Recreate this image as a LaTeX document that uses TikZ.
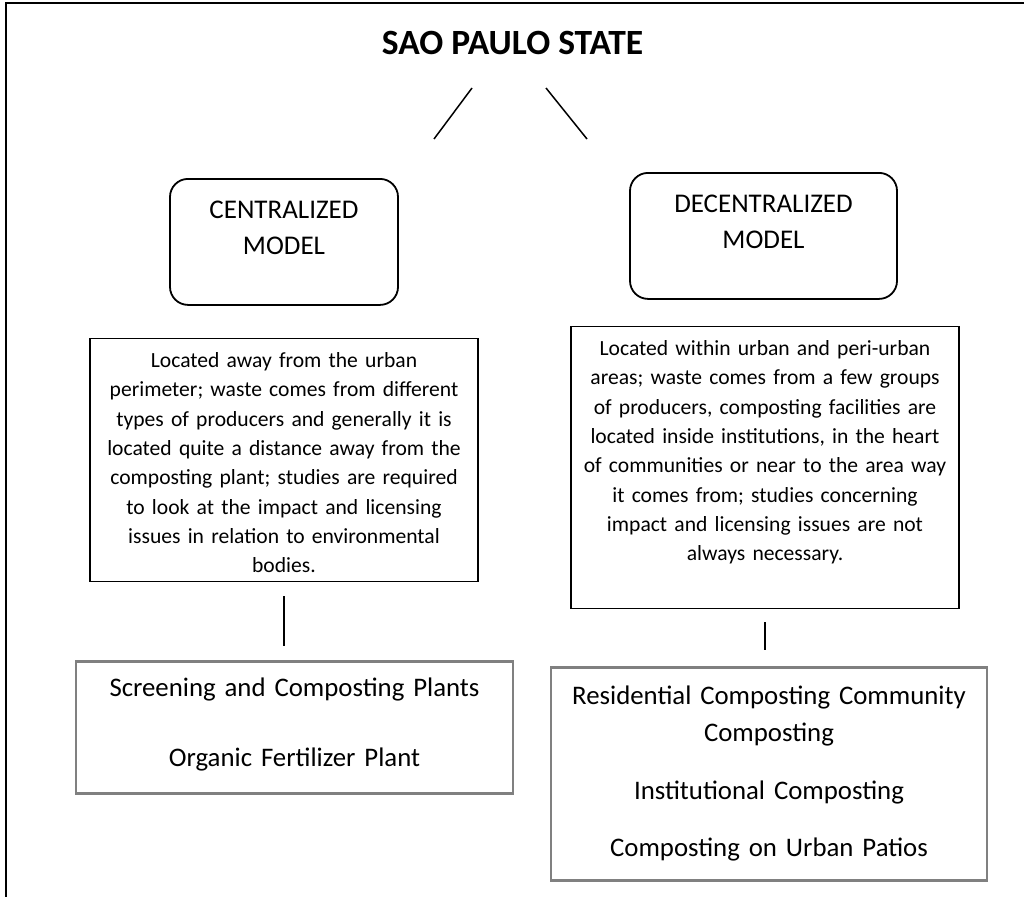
\documentclass[tikz,border=0pt]{standalone}
\usepackage{fontspec}
\setmainfont{Carlito}
\usetikzlibrary{positioning}

\tikzset{
  head/.style={font=\fontsize{35.5}{42}\selectfont\bfseries},
  model/.style={draw, rounded corners=18pt, line width=1.8pt, inner sep=0pt, align=center,
    text width=228pt, text height=40pt, text depth=86pt, font=\fontsize{27}{36}\selectfont},
  note/.style={draw, line width=1.5pt, inner sep=0pt, align=center, text width=388pt,
    text height=29pt, font=\fontsize{21.6}{29.3}\selectfont},
  plant/.style={draw=gray, line width=2.5pt, inner sep=0pt, align=center, text width=436pt,
    font=\fontsize{26.8}{37}\selectfont},
  link/.style={line width=1.5pt}
}

\begin{document}
\begin{tikzpicture}[x=1pt, y=1pt]
 \useasboundingbox (0,0) rectangle (1024,-897);
 \draw[line width=2.5pt] (1024,-3) -- (6,-3) -- (6,-897);

 \node[head, anchor=base] (state) at (512.5,-54) {SAO PAULO STATE};
 \node[model, anchor=north] (central) at (284,-178) {CENTRALIZED\\MODEL};
 \node[model, anchor=north, text width=267pt] (decentral) at (763.5,-172) {DECENTRALIZED\\MODEL};

 \node[note, below=32pt of central, text depth=214pt] (txtC) {Located away from the urban\\perimeter; waste comes from different\\types of producers and generally it is\\located quite a distance away from the\\composting plant; studies are required\\to look at the impact and licensing\\issues in relation to environmental\\bodies.};
 \node[note, below=26pt of decentral, xshift=1.5pt, text depth=253pt] (txtD) {Located within urban and peri-urban\\areas; waste comes from a few groups\\of producers, composting facilities are\\located inside institutions, in the heart\\of communities or near to the area way\\it comes from; studies concerning\\impact and licensing issues are not\\always necessary.};

 \node[plant, below=78pt of txtC, xshift=10.5pt, text width=437pt, text height=35pt, text depth=97pt] (plantsC) {Screening and Composting Plants\\[33pt]Organic Fertilizer Plant};
 \node[plant, below=57pt of txtD, xshift=4pt, text height=37pt, text depth=176pt] (plantsD) {Residential Composting Community\\Composting\\[21pt]Institutional Composting\\[20pt]Composting on Urban Patios};

 \coordinate (cTop) at (472,-88);
 \coordinate (cEnd) at (434,-139);
 \coordinate (dTop) at (546,-88);
 \coordinate (dEnd) at (587,-139);
 \draw[link] (cTop) -- (cEnd);
 \draw[link] (dTop) -- (dEnd);

 \draw[link, shorten <=14pt, shorten >=14pt] (txtC.south) -- (txtC.south |- plantsC.north);
 \draw[link, shorten <=13pt, shorten >=16pt] (txtD.south) -- (txtD.south |- plantsD.north);
\end{tikzpicture}
\end{document}
